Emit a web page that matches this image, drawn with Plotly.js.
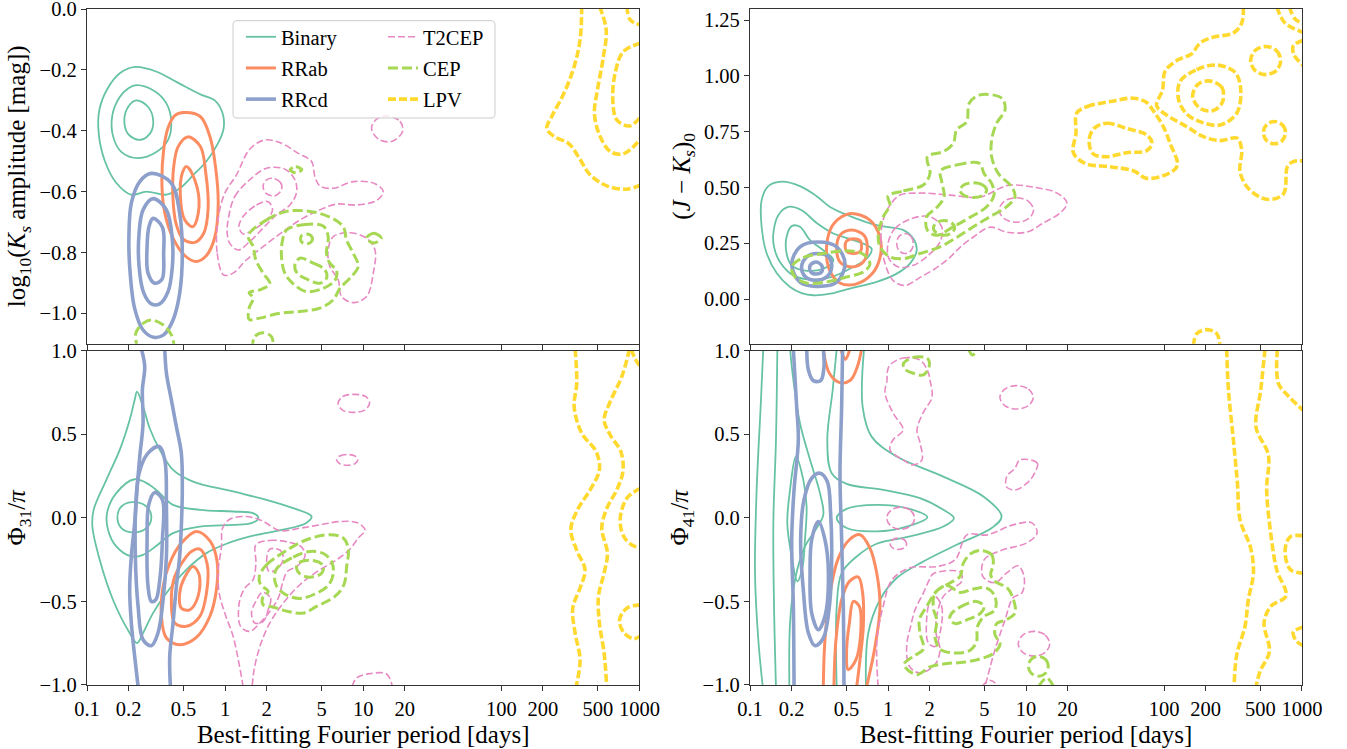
<!DOCTYPE html>
<html><head><meta charset="utf-8">
<script src="https://cdn.plot.ly/plotly-3.0.1.min.js"></script>
<style>html,body{margin:0;padding:0;background:#fff}#chart{width:1347px;height:749px}</style>
</head><body><div id="chart"></div>
<script>
// ---------- categories & ticks ----------
const CLASSES = ['Binary','RRab','RRcd','T2CEP','CEP','LPV'];
const PERIOD_TICKS = [0.1,0.2,0.5,1,2,5,10,20,100,200,500,1000];
const PERIOD_TICK_TEXT = ['0.1','0.2','0.5','1','2','5','10','20','100','200','500','1000'];

// Contour lines: each point = [log10(period / days), y value]
// ---------- top-left: log10(Ks amplitude) ----------
const TL_BINARY = [
 [[-0.65,-0.19],[-0.50,-0.205],[-0.35,-0.24],[-0.18,-0.28],[-0.075,-0.30],[-0.02,-0.34],[-0.01,-0.39],[-0.05,-0.44],[-0.135,-0.50],[-0.23,-0.545],[-0.33,-0.59],[-0.425,-0.61],[-0.57,-0.60],[-0.68,-0.61],[-0.79,-0.57],[-0.87,-0.50],[-0.915,-0.41],[-0.91,-0.33],[-0.85,-0.26],[-0.76,-0.21],[-0.65,-0.19]],
 [[-0.64,-0.25],[-0.51,-0.27],[-0.425,-0.31],[-0.39,-0.37],[-0.413,-0.43],[-0.498,-0.47],[-0.63,-0.49],[-0.75,-0.47],[-0.81,-0.42],[-0.817,-0.35],[-0.764,-0.29],[-0.70,-0.26],[-0.64,-0.25]],
 [[-0.643,-0.30],[-0.56,-0.32],[-0.52,-0.37],[-0.546,-0.41],[-0.62,-0.43],[-0.703,-0.41],[-0.73,-0.364],[-0.70,-0.32],[-0.643,-0.30]]
];
const TL_RRAB = [
 [[-0.30,-0.34],[-0.18,-0.353],[-0.11,-0.419],[-0.07,-0.517],[-0.05,-0.64],[-0.075,-0.75],[-0.135,-0.81],[-0.21,-0.83],[-0.293,-0.81],[-0.377,-0.753],[-0.437,-0.67],[-0.457,-0.583],[-0.445,-0.463],[-0.413,-0.39],[-0.365,-0.35],[-0.30,-0.34]],
 [[-0.27,-0.42],[-0.18,-0.451],[-0.14,-0.539],[-0.123,-0.655],[-0.155,-0.737],[-0.22,-0.767],[-0.304,-0.756],[-0.353,-0.709],[-0.377,-0.627],[-0.372,-0.517],[-0.34,-0.452],[-0.27,-0.42]],
 [[-0.28,-0.517],[-0.22,-0.561],[-0.189,-0.649],[-0.232,-0.715],[-0.292,-0.693],[-0.324,-0.616],[-0.31,-0.539],[-0.28,-0.517]]
];
const TL_RRCD = [
 [[-0.534,-0.54],[-0.39,-0.572],[-0.329,-0.671],[-0.31,-0.803],[-0.329,-0.934],[-0.377,-1.022],[-0.445,-1.071],[-0.517,-1.079],[-0.594,-1.055],[-0.655,-0.984],[-0.691,-0.846],[-0.696,-0.737],[-0.679,-0.638],[-0.618,-0.567],[-0.534,-0.54]],
 [[-0.522,-0.623],[-0.425,-0.66],[-0.382,-0.759],[-0.382,-0.846],[-0.413,-0.929],[-0.474,-0.969],[-0.534,-0.969],[-0.59,-0.932],[-0.623,-0.846],[-0.623,-0.737],[-0.594,-0.66],[-0.522,-0.623]],
 [[-0.522,-0.688],[-0.454,-0.717],[-0.445,-0.803],[-0.457,-0.888],[-0.51,-0.901],[-0.558,-0.868],[-0.565,-0.78],[-0.551,-0.715],[-0.522,-0.688]]
];
const TL_T2CEP = [
 [[-0.01,-0.874],[-0.058,-0.80],[-0.051,-0.69],[-0.002,-0.605],[0.082,-0.545],[0.179,-0.46],[0.288,-0.43],[0.408,-0.441],[0.529,-0.474],[0.626,-0.501],[0.65,-0.55],[0.686,-0.581],[0.783,-0.589],[0.928,-0.567],[1.085,-0.574],[1.145,-0.60],[1.097,-0.629],[0.952,-0.644],[0.807,-0.641],[0.686,-0.66],[0.565,-0.687],[0.42,-0.731],[0.275,-0.781],[0.155,-0.824],[0.058,-0.868],[-0.01,-0.874]],
 [[0.022,-0.693],[0.07,-0.616],[0.179,-0.561],[0.30,-0.523],[0.432,-0.526],[0.505,-0.561],[0.517,-0.603],[0.469,-0.644],[0.372,-0.676],[0.275,-0.72],[0.179,-0.764],[0.094,-0.792],[0.034,-0.77],[0.015,-0.737],[0.022,-0.693]],
 [[0.343,-0.556],[0.401,-0.57],[0.408,-0.594],[0.36,-0.614],[0.295,-0.605],[0.275,-0.581],[0.30,-0.561],[0.343,-0.556]],
 [[0.13,-0.682],[0.227,-0.644],[0.311,-0.633],[0.343,-0.66],[0.30,-0.693],[0.203,-0.726],[0.13,-0.739],[0.10,-0.715],[0.13,-0.682]],
 [[0.783,-0.748],[0.903,-0.735],[1.024,-0.753],[1.085,-0.792],[1.073,-0.868],[1.024,-0.945],[0.928,-0.965],[0.843,-0.945],[0.819,-0.89],[0.758,-0.846],[0.746,-0.792],[0.783,-0.748]],
 [[1.169,-0.351],[1.266,-0.369],[1.285,-0.402],[1.205,-0.435],[1.109,-0.427],[1.06,-0.391],[1.097,-0.362],[1.169,-0.351]]
];
const TL_CEP = [
 [[0.167,-0.745],[0.30,-0.693],[0.445,-0.665],[0.614,-0.665],[0.758,-0.684],[0.855,-0.715],[0.879,-0.759],[0.928,-0.803],[0.964,-0.846],[0.903,-0.885],[0.831,-0.918],[0.783,-0.956],[0.686,-0.983],[0.541,-0.994],[0.396,-1.0],[0.251,-1.016],[0.174,-1.02],[0.174,-0.983],[0.203,-0.95],[0.174,-0.932],[0.251,-0.923],[0.324,-0.903],[0.275,-0.868],[0.222,-0.824],[0.203,-0.78],[0.167,-0.745]],
 [[0.445,-0.726],[0.565,-0.709],[0.71,-0.713],[0.746,-0.748],[0.734,-0.803],[0.758,-0.835],[0.807,-0.86],[0.795,-0.892],[0.71,-0.918],[0.589,-0.929],[0.493,-0.903],[0.432,-0.868],[0.408,-0.813],[0.416,-0.759],[0.445,-0.726]],
 [[0.541,-0.819],[0.638,-0.835],[0.722,-0.857],[0.734,-0.885],[0.686,-0.901],[0.602,-0.89],[0.522,-0.868],[0.505,-0.841],[0.541,-0.819]],
 [[0.589,-0.739],[0.628,-0.748],[0.626,-0.764],[0.589,-0.772],[0.551,-0.764],[0.551,-0.746],[0.589,-0.739]],
 [[0.47,-0.528],[0.512,-0.518],[0.555,-0.528],[0.512,-0.538],[0.47,-0.528]],
 [[1.024,-0.753],[1.077,-0.737],[1.13,-0.753],[1.077,-0.769],[1.024,-0.753]],
 [[-0.63,-1.12],[-0.647,-1.066],[-0.594,-1.033],[-0.534,-1.022],[-0.45,-1.038],[-0.389,-1.071],[-0.365,-1.12]],
 [[0.196,-1.12],[0.215,-1.077],[0.275,-1.064],[0.336,-1.077],[0.348,-1.12]]
];
const TL_LPV = [
 [[2.582,0.01],[2.57,-0.101],[2.527,-0.189],[2.454,-0.276],[2.365,-0.353],[2.329,-0.392],[2.382,-0.419],[2.486,-0.441],[2.558,-0.485],[2.643,-0.545],[2.764,-0.581],[2.909,-0.592],[3.01,-0.578]],
 [[2.71,0.01],[2.759,-0.068],[2.735,-0.167],[2.696,-0.265],[2.674,-0.342],[2.71,-0.413],[2.788,-0.468],[2.88,-0.476],[2.957,-0.452],[3.01,-0.424]],
 [[3.01,-0.112],[2.884,-0.139],[2.824,-0.21],[2.807,-0.298],[2.836,-0.364],[2.928,-0.384],[3.01,-0.353]],
 [[2.909,0.01],[2.933,-0.035],[3.01,-0.052]]
];

// ---------- top-right: (J - Ks)_0 ----------
const TR_BINARY = [
 [[-0.77,0.526],[-0.638,0.506],[-0.517,0.461],[-0.42,0.413],[-0.276,0.372],[-0.082,0.331],[0.111,0.309],[0.183,0.271],[0.208,0.219],[0.159,0.159],[0.063,0.114],[-0.082,0.077],[-0.276,0.047],[-0.42,0.024],[-0.541,0.017],[-0.626,0.027],[-0.71,0.054],[-0.807,0.117],[-0.879,0.204],[-0.916,0.324],[-0.916,0.443],[-0.867,0.506],[-0.77,0.526]],
 [[-0.831,0.294],[-0.795,0.376],[-0.722,0.413],[-0.626,0.398],[-0.517,0.341],[-0.396,0.294],[-0.251,0.264],[-0.119,0.226],[-0.155,0.181],[-0.276,0.136],[-0.396,0.102],[-0.541,0.087],[-0.686,0.106],[-0.783,0.166],[-0.826,0.234],[-0.831,0.294]],
 [[-0.735,0.279],[-0.698,0.327],[-0.638,0.324],[-0.565,0.264],[-0.469,0.219],[-0.396,0.174],[-0.469,0.136],[-0.614,0.129],[-0.698,0.151],[-0.735,0.204],[-0.735,0.279]]
];
const TR_RRAB = [
 [[-0.264,0.384],[-0.131,0.354],[-0.058,0.276],[-0.058,0.186],[-0.119,0.111],[-0.239,0.066],[-0.348,0.072],[-0.425,0.132],[-0.445,0.234],[-0.408,0.324],[-0.336,0.369],[-0.264,0.384]],
 [[-0.264,0.309],[-0.174,0.286],[-0.15,0.226],[-0.179,0.166],[-0.264,0.144],[-0.348,0.166],[-0.372,0.226],[-0.348,0.286],[-0.264,0.309]],
 [[-0.251,0.27],[-0.2,0.26],[-0.191,0.237],[-0.2,0.214],[-0.251,0.204],[-0.3,0.214],[-0.311,0.237],[-0.3,0.26],[-0.251,0.27]]
];
const TR_RRCD = [
 [[-0.505,0.256],[-0.372,0.234],[-0.312,0.159],[-0.372,0.076],[-0.517,0.057],[-0.638,0.076],[-0.698,0.156],[-0.638,0.234],[-0.505,0.256]],
 [[-0.517,0.204],[-0.432,0.189],[-0.408,0.144],[-0.445,0.099],[-0.529,0.084],[-0.602,0.102],[-0.626,0.144],[-0.589,0.189],[-0.517,0.204]],
 [[-0.522,0.166],[-0.48,0.15],[-0.48,0.122],[-0.522,0.112],[-0.56,0.122],[-0.565,0.15],[-0.522,0.166]]
];
const TR_T2CEP = [
 [[-0.022,0.16],[-0.051,0.264],[-0.036,0.353],[0.014,0.421],[0.087,0.466],[0.232,0.475],[0.449,0.466],[0.667,0.457],[0.812,0.497],[0.884,0.511],[1.051,0.502],[1.225,0.475],[1.297,0.43],[1.246,0.385],[1.123,0.34],[1.007,0.30],[0.862,0.30],[0.739,0.322],[0.616,0.277],[0.522,0.232],[0.449,0.187],[0.355,0.142],[0.232,0.097],[0.123,0.061],[0.036,0.084],[-0.022,0.16]],
 [[0.0,0.249],[0.05,0.316],[0.171,0.361],[0.304,0.369],[0.389,0.324],[0.377,0.256],[0.292,0.196],[0.183,0.151],[0.075,0.144],[0.007,0.181],[0.0,0.249]],
 [[0.123,0.294],[0.166,0.281],[0.183,0.249],[0.166,0.217],[0.123,0.204],[0.08,0.217],[0.063,0.249],[0.08,0.281],[0.123,0.294]],
 [[0.93,0.454],[1.018,0.438],[1.055,0.399],[1.018,0.36],[0.93,0.344],[0.842,0.36],[0.805,0.399],[0.842,0.438],[0.93,0.454]]
];
const TR_CEP = [
 [[0.0,0.461],[0.111,0.485],[0.256,0.511],[0.304,0.563],[0.285,0.638],[0.401,0.661],[0.473,0.698],[0.497,0.758],[0.57,0.795],[0.589,0.878],[0.666,0.915],[0.824,0.9],[0.848,0.848],[0.787,0.788],[0.751,0.713],[0.751,0.638],[0.799,0.563],[0.896,0.503],[0.92,0.458],[0.86,0.414],[0.739,0.369],[0.618,0.324],[0.497,0.276],[0.377,0.234],[0.232,0.204],[0.111,0.181],[0.014,0.189],[-0.058,0.234],[-0.07,0.294],[-0.034,0.369],[0.014,0.421],[0.0,0.461]],
 [[0.381,0.575],[0.497,0.601],[0.662,0.608],[0.696,0.563],[0.751,0.518],[0.768,0.466],[0.715,0.414],[0.594,0.366],[0.473,0.324],[0.353,0.286],[0.285,0.309],[0.28,0.369],[0.353,0.41],[0.406,0.458],[0.389,0.526],[0.381,0.575]],
 [[0.618,0.521],[0.687,0.511],[0.715,0.488],[0.687,0.465],[0.618,0.455],[0.549,0.465],[0.521,0.488],[0.549,0.511],[0.618,0.521]],
 [[0.406,0.352],[0.46,0.342],[0.483,0.319],[0.46,0.296],[0.406,0.286],[0.352,0.296],[0.329,0.319],[0.352,0.342],[0.406,0.352]],
 [[-0.698,0.144],[-0.614,0.186],[-0.469,0.204],[-0.3,0.216],[-0.179,0.201],[-0.131,0.156],[-0.179,0.121],[-0.3,0.099],[-0.445,0.077],[-0.59,0.072],[-0.674,0.099],[-0.698,0.144]]
];
const TR_LPV = [
 [[2.575,1.31],[2.563,1.237],[2.502,1.192],[2.357,1.174],[2.261,1.147],[2.2,1.099],[2.092,1.069],[2.007,1.02],[1.99,0.938],[1.947,0.866],[2.019,0.825],[2.164,0.773],[2.285,0.728],[2.406,0.71],[2.531,0.721],[2.563,0.668],[2.551,0.571],[2.611,0.496],[2.744,0.447],[2.865,0.471],[2.894,0.593],[2.937,0.616],[3.01,0.619]],
 [[1.367,0.833],[1.444,0.863],[1.609,0.885],[1.778,0.9],[1.874,0.881],[1.927,0.84],[1.995,0.773],[2.044,0.698],[2.097,0.601],[2.044,0.566],[1.874,0.541],[1.778,0.575],[1.609,0.593],[1.428,0.608],[1.343,0.656],[1.362,0.743],[1.367,0.833]],
 [[1.493,0.765],[1.585,0.788],[1.729,0.765],[1.874,0.736],[1.913,0.698],[1.874,0.665],[1.729,0.656],[1.585,0.638],[1.488,0.65],[1.457,0.71],[1.493,0.765]],
 [[2.116,0.975],[2.237,1.028],[2.382,1.049],[2.515,1.016],[2.556,0.938],[2.527,0.833],[2.406,0.78],[2.261,0.795],[2.164,0.83],[2.106,0.893],[2.116,0.975]],
 [[2.321,0.978],[2.418,0.95],[2.425,0.885],[2.357,0.845],[2.261,0.855],[2.208,0.908],[2.242,0.96],[2.321,0.978]],
 [[2.737,1.132],[2.814,1.114],[2.846,1.069],[2.814,1.024],[2.737,1.006],[2.66,1.024],[2.628,1.069],[2.66,1.114],[2.737,1.132]],
 [[2.8,0.796],[2.857,0.781],[2.88,0.746],[2.857,0.711],[2.8,0.696],[2.743,0.711],[2.72,0.746],[2.743,0.781],[2.8,0.796]],
 [[2.817,1.31],[2.877,1.237],[3.01,1.195]],
 [[2.908,1.31],[2.95,1.255],[3.01,1.235]],
 [[3.01,1.16],[2.937,1.135],[2.942,1.095],[3.01,1.045]],
 [[2.213,-0.21],[2.237,-0.155],[2.31,-0.137],[2.382,-0.155],[2.406,-0.21]]
];

// ---------- bottom-left: Phi31 / pi ----------
const BL_BINARY = [
 [[-0.638,0.755],[-0.594,0.666],[-0.546,0.536],[-0.473,0.407],[-0.377,0.287],[-0.232,0.217],[0.058,0.158],[0.299,0.108],[0.493,0.058],[0.626,0.008],[0.584,-0.032],[0.42,-0.071],[0.203,-0.107],[0.01,-0.155],[-0.135,-0.211],[-0.28,-0.31],[-0.425,-0.45],[-0.522,-0.57],[-0.594,-0.689],[-0.638,-0.749],[-0.691,-0.689],[-0.812,-0.49],[-0.908,-0.251],[-0.961,-0.052],[-0.952,0.048],[-0.86,0.227],[-0.763,0.407],[-0.691,0.586],[-0.655,0.705],[-0.638,0.755]],
 [[-0.655,0.231],[-0.546,0.197],[-0.473,0.148],[-0.377,0.078],[-0.183,0.048],[0.058,0.038],[0.203,0.028],[0.241,-0.002],[0.19,-0.032],[0.058,-0.042],[-0.183,-0.052],[-0.377,-0.091],[-0.497,-0.167],[-0.594,-0.221],[-0.679,-0.231],[-0.788,-0.171],[-0.848,-0.071],[-0.855,0.028],[-0.788,0.148],[-0.655,0.231]],
 [[-0.667,0.094],[-0.57,0.068],[-0.534,0.004],[-0.57,-0.061],[-0.667,-0.087],[-0.751,-0.061],[-0.78,0.004],[-0.751,0.068],[-0.667,0.094]]
];
const BL_RRAB = [
 [[-0.208,-0.081],[-0.107,-0.141],[-0.058,-0.261],[-0.063,-0.43],[-0.111,-0.59],[-0.208,-0.715],[-0.329,-0.759],[-0.425,-0.719],[-0.461,-0.59],[-0.449,-0.41],[-0.401,-0.271],[-0.317,-0.151],[-0.208,-0.081]],
 [[-0.183,-0.187],[-0.13,-0.275],[-0.135,-0.45],[-0.183,-0.59],[-0.28,-0.649],[-0.365,-0.629],[-0.389,-0.51],[-0.372,-0.37],[-0.317,-0.275],[-0.244,-0.201],[-0.183,-0.187]],
 [[-0.232,-0.291],[-0.188,-0.34],[-0.196,-0.47],[-0.256,-0.55],[-0.317,-0.54],[-0.329,-0.45],[-0.292,-0.354],[-0.232,-0.291]]
];
const BL_RRCD = [
 [[-0.606,1.01],[-0.582,0.905],[-0.599,0.765],[-0.594,0.566],[-0.618,0.367],[-0.638,0.168],[-0.655,-0.032],[-0.679,-0.231],[-0.691,-0.43],[-0.679,-0.629],[-0.655,-0.828],[-0.63,-1.01]],
 [[-0.437,1.01],[-0.425,0.865],[-0.389,0.705],[-0.353,0.546],[-0.317,0.387],[-0.31,0.168],[-0.317,-0.052],[-0.329,-0.231],[-0.353,-0.41],[-0.377,-0.629],[-0.401,-0.828],[-0.396,-1.01]],
 [[-0.478,0.427],[-0.437,0.347],[-0.425,0.068],[-0.425,-0.231],[-0.449,-0.49],[-0.486,-0.689],[-0.534,-0.765],[-0.594,-0.729],[-0.63,-0.53],[-0.65,-0.231],[-0.647,0.068],[-0.623,0.267],[-0.558,0.387],[-0.478,0.427]],
 [[-0.51,0.152],[-0.454,0.108],[-0.454,-0.131],[-0.473,-0.37],[-0.502,-0.49],[-0.534,-0.50],[-0.558,-0.41],[-0.565,-0.131],[-0.553,0.078],[-0.51,0.152]]
];
const BL_T2CEP = [
 [[0.13,-1.01],[0.126,-0.988],[0.095,-0.848],[0.058,-0.709],[-0.002,-0.57],[-0.043,-0.45],[-0.05,-0.311],[-0.026,-0.171],[-0.019,-0.062],[0.034,-0.008],[0.155,0.008],[0.264,-0.016],[0.397,-0.076],[0.541,-0.062],[0.686,-0.042],[0.831,-0.022],[0.952,-0.028],[1.013,-0.072],[0.964,-0.121],[0.899,-0.191],[0.807,-0.251],[0.686,-0.311],[0.541,-0.40],[0.421,-0.51],[0.324,-0.629],[0.252,-0.769],[0.21,-0.908],[0.196,-1.01]],
 [[0.223,-0.161],[0.324,-0.135],[0.469,-0.147],[0.554,-0.175],[0.578,-0.231],[0.517,-0.291],[0.45,-0.321],[0.416,-0.39],[0.385,-0.48],[0.324,-0.56],[0.252,-0.629],[0.18,-0.679],[0.112,-0.649],[0.102,-0.51],[0.143,-0.42],[0.203,-0.37],[0.223,-0.271],[0.223,-0.161]],
 [[0.324,-0.187],[0.401,-0.195],[0.421,-0.247],[0.377,-0.307],[0.319,-0.321],[0.3,-0.261],[0.324,-0.187]],
 [[0.271,-0.446],[0.329,-0.48],[0.312,-0.55],[0.276,-0.619],[0.215,-0.629],[0.191,-0.57],[0.222,-0.50],[0.271,-0.446]],
 [[0.818,0.685],[0.85,0.725],[0.932,0.739],[1.02,0.725],[1.046,0.685],[1.01,0.645],[0.932,0.631],[0.85,0.645],[0.818,0.685]],
 [[0.807,0.347],[0.83,0.37],[0.884,0.379],[0.94,0.37],[0.961,0.347],[0.94,0.324],[0.884,0.315],[0.83,0.324],[0.807,0.347]],
 [[0.92,-1.01],[0.952,-0.958],[1.048,-0.932],[1.169,-0.934],[1.205,-0.99],[1.208,-1.01]]
];
const BL_CEP = [
 [[0.247,-0.35],[0.30,-0.281],[0.433,-0.201],[0.59,-0.131],[0.759,-0.101],[0.856,-0.121],[0.892,-0.187],[0.88,-0.291],[0.86,-0.40],[0.795,-0.47],[0.662,-0.53],[0.566,-0.57],[0.457,-0.56],[0.348,-0.534],[0.276,-0.52],[0.271,-0.48],[0.312,-0.44],[0.257,-0.40],[0.247,-0.35]],
 [[0.368,-0.311],[0.493,-0.235],[0.614,-0.201],[0.715,-0.215],[0.773,-0.267],[0.783,-0.335],[0.747,-0.404],[0.638,-0.46],[0.541,-0.482],[0.44,-0.46],[0.368,-0.40],[0.368,-0.311]],
 [[0.53,-0.271],[0.638,-0.255],[0.711,-0.287],[0.699,-0.331],[0.614,-0.355],[0.541,-0.335],[0.517,-0.301],[0.53,-0.271]]
];
const BL_LPV = [
 [[2.534,1.01],[2.546,0.805],[2.527,0.666],[2.582,0.506],[2.686,0.397],[2.71,0.287],[2.643,0.168],[2.551,0.048],[2.503,-0.071],[2.546,-0.195],[2.606,-0.311],[2.57,-0.42],[2.517,-0.54],[2.534,-0.689],[2.57,-0.848],[2.541,-1.01]],
 [[2.928,1.01],[2.872,0.845],[2.788,0.695],[2.744,0.586],[2.788,0.496],[2.865,0.397],[2.88,0.277],[2.836,0.168],[2.764,0.058],[2.727,-0.061],[2.768,-0.211],[2.744,-0.33],[2.703,-0.47],[2.71,-0.629],[2.744,-0.809],[2.763,-1.01]],
 [[2.94,1.01],[2.97,0.95],[3.01,0.9]],
 [[3.01,0.178],[2.909,0.118],[2.86,-0.012],[2.889,-0.115],[2.957,-0.167],[3.01,-0.175]],
 [[3.01,-0.52],[2.909,-0.54],[2.855,-0.613],[2.889,-0.689],[2.957,-0.723],[3.01,-0.705]]
];

// ---------- bottom-right: Phi41 / pi ----------
const BR_BINARY = [
 [[-0.904,1.01],[-0.923,0.666],[-0.952,0.168],[-0.964,-0.33],[-0.94,-0.729],[-0.908,-1.01]],
 [[-0.174,1.01],[-0.184,0.666],[-0.119,0.486],[0.063,0.367],[0.401,0.247],[0.691,0.128],[0.823,0.008],[0.751,-0.061],[0.497,-0.161],[0.256,-0.261],[0.063,-0.36],[-0.058,-0.49],[-0.143,-0.689],[-0.16,-1.01]],
 [[-0.802,1.01],[-0.812,0.466],[-0.831,-0.032],[-0.826,-0.53],[-0.812,-1.01]],
 [[-0.372,1.01],[-0.401,0.765],[-0.44,0.466],[-0.408,0.267],[-0.3,0.203],[-0.034,0.168],[0.232,0.118],[0.401,0.048],[0.478,-0.002],[0.401,-0.052],[0.159,-0.111],[-0.082,-0.155],[-0.227,-0.231],[-0.336,-0.33],[-0.372,-0.53],[-0.372,-1.01]],
 [[-0.372,-0.002],[-0.3,0.054],[-0.082,0.078],[0.135,0.058],[0.285,0.004],[0.135,-0.052],[-0.082,-0.081],[-0.3,-0.061],[-0.372,-0.002]],
 [[-0.71,1.01],[-0.686,0.825],[-0.638,0.566],[-0.565,0.347],[-0.493,0.148],[-0.469,0.018],[-0.517,-0.061],[-0.602,-0.171],[-0.674,-0.37],[-0.71,-0.629],[-0.715,-1.01]],
 [[-0.667,0.367],[-0.71,0.168],[-0.73,-0.032],[-0.698,-0.231],[-0.657,-0.38],[-0.619,-0.291],[-0.602,-0.131],[-0.59,0.068],[-0.614,0.227],[-0.667,0.367]]
];
const BR_RRAB = [
 [[-0.469,-1.01],[-0.457,-0.729],[-0.42,-0.45],[-0.36,-0.241],[-0.28,-0.131],[-0.203,-0.101],[-0.131,-0.181],[-0.082,-0.33],[-0.058,-0.53],[-0.094,-0.769],[-0.155,-1.01]],
 [[-0.392,-1.01],[-0.377,-0.729],[-0.336,-0.49],[-0.28,-0.38],[-0.215,-0.354],[-0.184,-0.45],[-0.179,-0.649],[-0.203,-0.848],[-0.227,-1.01]],
 [[-0.251,-0.50],[-0.208,-0.53],[-0.198,-0.689],[-0.232,-0.848],[-0.288,-0.908],[-0.3,-0.789],[-0.28,-0.629],[-0.251,-0.50]],
 [[-0.469,1.01],[-0.425,0.865],[-0.348,0.809],[-0.271,0.825],[-0.222,0.905],[-0.191,1.01]],
 [[-0.343,1.01],[-0.309,0.948],[-0.276,1.01]]
];
const BR_RRCD = [
 [[-0.686,1.01],[-0.662,0.666],[-0.65,0.466],[-0.681,0.168],[-0.698,-0.131],[-0.686,-0.53],[-0.681,-1.01]],
 [[-0.329,1.01],[-0.336,0.666],[-0.348,0.267],[-0.336,-0.131],[-0.324,-0.53],[-0.319,-1.01]],
 [[-0.589,1.01],[-0.577,0.885],[-0.541,0.821],[-0.488,0.821],[-0.464,0.905],[-0.469,1.01]],
 [[-0.493,0.267],[-0.44,0.217],[-0.416,0.028],[-0.408,-0.231],[-0.425,-0.53],[-0.469,-0.719],[-0.529,-0.765],[-0.577,-0.689],[-0.614,-0.43],[-0.633,-0.131],[-0.609,0.108],[-0.553,0.237],[-0.493,0.267]],
 [[-0.505,-0.022],[-0.457,-0.131],[-0.432,-0.33],[-0.457,-0.589],[-0.505,-0.669],[-0.553,-0.57],[-0.565,-0.33],[-0.553,-0.131],[-0.505,-0.022]]
];
const BR_T2CEP = [
 [[0.014,0.915],[0.109,0.956],[0.232,0.944],[0.29,0.873],[0.304,0.825],[0.319,0.723],[0.254,0.628],[0.21,0.526],[0.232,0.448],[0.246,0.347],[0.181,0.317],[0.109,0.347],[0.014,0.406],[0.036,0.466],[0.109,0.526],[0.036,0.628],[-0.022,0.747],[-0.007,0.825],[-0.007,0.867],[0.014,0.915]],
 [[0.932,0.791],[1.018,0.77],[1.053,0.721],[1.018,0.672],[0.932,0.651],[0.846,0.672],[0.811,0.721],[0.846,0.77],[0.932,0.791]],
 [[0.956,0.347],[1.082,0.327],[1.048,0.247],[1.0,0.203],[0.928,0.168],[0.86,0.184],[0.86,0.247],[0.92,0.297],[0.956,0.347]],
 [[0.092,0.064],[0.163,0.045],[0.193,-0.002],[0.163,-0.049],[0.092,-0.068],[0.021,-0.049],[-0.009,-0.002],[0.021,0.045],[0.092,0.064]],
 [[0.075,-0.121],[0.117,-0.131],[0.135,-0.155],[0.117,-0.179],[0.075,-0.189],[0.033,-0.179],[0.015,-0.155],[0.033,-0.131],[0.075,-0.121]],
 [[-0.072,-1.01],[-0.08,-0.729],[-0.036,-0.532],[0.029,-0.371],[0.159,-0.299],[0.355,-0.291],[0.486,-0.251],[0.572,-0.102],[0.717,-0.102],[0.906,-0.042],[1.043,-0.03],[1.08,-0.09],[1.007,-0.149],[0.812,-0.197],[0.696,-0.251],[0.688,-0.352],[0.775,-0.388],[0.862,-0.328],[0.942,-0.287],[0.986,-0.352],[0.971,-0.448],[0.906,-0.478],[0.848,-0.61],[0.775,-0.789],[0.703,-1.01]],
 [[0.328,-0.334],[0.522,-0.324],[0.534,-0.38],[0.461,-0.426],[0.401,-0.47],[0.357,-0.569],[0.348,-0.689],[0.377,-0.788],[0.34,-0.878],[0.232,-0.928],[0.155,-0.888],[0.135,-0.769],[0.164,-0.649],[0.196,-0.55],[0.256,-0.45],[0.3,-0.37],[0.328,-0.334]],
 [[0.341,-0.47],[0.389,-0.53],[0.377,-0.689],[0.341,-0.769],[0.292,-0.749],[0.28,-0.609],[0.304,-0.5],[0.341,-0.47]],
 [[1.058,-0.679],[1.139,-0.701],[1.172,-0.753],[1.139,-0.805],[1.058,-0.827],[0.977,-0.805],[0.944,-0.753],[0.977,-0.701],[1.058,-0.679]],
 [[0.679,-1.01],[0.739,-0.972],[0.807,-1.01]]
];
const BR_CEP = [
 [[0.667,-0.195],[0.751,-0.221],[0.763,-0.28],[0.744,-0.34],[0.775,-0.38],[0.865,-0.42],[0.913,-0.50],[0.92,-0.569],[0.86,-0.609],[0.787,-0.633],[0.775,-0.699],[0.812,-0.753],[0.763,-0.812],[0.667,-0.844],[0.546,-0.864],[0.425,-0.872],[0.304,-0.892],[0.208,-0.938],[0.116,-0.878],[0.184,-0.828],[0.256,-0.785],[0.232,-0.689],[0.227,-0.609],[0.28,-0.53],[0.357,-0.434],[0.449,-0.39],[0.522,-0.35],[0.546,-0.271],[0.599,-0.215],[0.667,-0.195]],
 [[0.341,-0.45],[0.425,-0.404],[0.522,-0.446],[0.618,-0.426],[0.715,-0.42],[0.775,-0.47],[0.775,-0.55],[0.691,-0.593],[0.647,-0.653],[0.642,-0.739],[0.594,-0.793],[0.473,-0.808],[0.377,-0.785],[0.341,-0.719],[0.353,-0.609],[0.328,-0.54],[0.341,-0.45]],
 [[0.454,-0.579],[0.522,-0.534],[0.642,-0.50],[0.696,-0.53],[0.667,-0.573],[0.575,-0.609],[0.486,-0.633],[0.449,-0.605],[0.454,-0.579]],
 [[1.089,-0.828],[1.14,-0.846],[1.161,-0.888],[1.14,-0.93],[1.089,-0.948],[1.038,-0.93],[1.017,-0.888],[1.038,-0.846],[1.089,-0.828]],
 [[1.09,-1.01],[1.15,-0.958],[1.2,-1.01]],
 [[0.111,0.921],[0.183,0.96],[0.285,0.954],[0.299,0.909],[0.256,0.855],[0.183,0.865],[0.123,0.889],[0.111,0.921]],
 [[0.582,1.01],[0.613,0.974],[0.647,1.01]]
];
const BR_LPV = [
 [[2.454,1.01],[2.467,0.765],[2.503,0.466],[2.532,0.207],[2.551,-0.012],[2.628,-0.181],[2.648,-0.33],[2.611,-0.49],[2.587,-0.649],[2.527,-0.819],[2.508,-1.01]],
 [[2.732,1.01],[2.701,0.765],[2.667,0.542],[2.756,0.377],[2.744,0.168],[2.773,-0.091],[2.817,-0.311],[2.884,-0.466],[2.773,-0.53],[2.725,-0.629],[2.764,-0.799],[2.696,-0.918],[2.667,-1.01]],
 [[2.822,1.01],[2.829,0.805],[2.901,0.729],[3.01,0.642]],
 [[3.01,-0.107],[2.913,-0.115],[2.877,-0.201],[2.918,-0.311],[3.01,-0.33]],
 [[3.01,-0.653],[2.937,-0.685],[2.962,-0.739],[3.01,-0.765]]
];

// ---------- styling ----------
const FONT = 'Liberation Serif';
const STYLE = {
  Binary:{color:'#66c2a5', width:1.8, dash:'solid'},
  RRab:  {color:'#fc8d62', width:3,   dash:'solid'},
  RRcd:  {color:'#8da0cb', width:3.6, dash:'solid'},
  T2CEP: {color:'#e78ac3', width:1.6, dash:'7px,3px'},
  CEP:   {color:'#a6d854', width:3,   dash:'10px,4px'},
  LPV:   {color:'#ffd92f', width:3.6, dash:'8px,3px'}
};
const PANELS = [
  {xa:'x',  ya:'y',  sets:{Binary:TL_BINARY, RRab:TL_RRAB, RRcd:TL_RRCD, T2CEP:TL_T2CEP, CEP:TL_CEP, LPV:TL_LPV}},
  {xa:'x2', ya:'y2', sets:{Binary:TR_BINARY, RRab:TR_RRAB, RRcd:TR_RRCD, T2CEP:TR_T2CEP, CEP:TR_CEP, LPV:TR_LPV}},
  {xa:'x3', ya:'y3', sets:{Binary:BL_BINARY, RRab:BL_RRAB, RRcd:BL_RRCD, T2CEP:BL_T2CEP, CEP:BL_CEP, LPV:BL_LPV}},
  {xa:'x4', ya:'y4', sets:{Binary:BR_BINARY, RRab:BR_RRAB, RRcd:BR_RRCD, T2CEP:BR_T2CEP, CEP:BR_CEP, LPV:BR_LPV}}
];

function joinContours(contours){
  const x=[], y=[];
  contours.forEach((c,i)=>{
    if(i>0){x.push(null); y.push(null);}
    c.forEach(p=>{x.push(Math.pow(10,p[0])); y.push(p[1]);});
  });
  return {x,y};
}

const traces = [];
PANELS.forEach((pan,pi)=>{
  CLASSES.forEach((cls,ci)=>{
    const d = joinContours(pan.sets[cls]);
    traces.push({
      type:'scatter', mode:'lines', x:d.x, y:d.y, xaxis:pan.xa, yaxis:pan.ya,
      name:cls, legendgroup:cls, legend: ci<3 ? 'legend' : 'legend2',
      showlegend: pi===0, connectgaps:false, hoverinfo:'skip',
      line:{color:STYLE[cls].color, width:STYLE[cls].width, dash:STYLE[cls].dash, shape:'spline', smoothing:1}
    });
  });
});

const tickFont = {family:FONT, size:20.5, color:'#000'};
const titleFont = {family:FONT, size:25, color:'#000'};
function xAxis(domain, anchor, labels){
  const a = {type:'log', range:[-1,3], domain:domain, anchor:anchor,
    tickmode:'array', tickvals:PERIOD_TICKS, ticktext:PERIOD_TICK_TEXT, showticklabels:labels,
    ticks:'outside', ticklen:5, tickwidth:1.1, tickcolor:'#333', ticklabeloverflow:'allow',
    showline:true, mirror:true, linecolor:'#333', linewidth:1.3,
    showgrid:false, zeroline:false, tickfont:tickFont};
  if(labels) a.title = {text:'Best-fitting Fourier period [days]', font:titleFont, standoff:6};
  return a;
}
function yAxis(domain, anchor, range, dtick, fmt, title){
  return {range:range, domain:domain, anchor:anchor, dtick:dtick, tick0:0, tickformat:fmt,
    ticks:'outside', ticklen:5, tickwidth:1.1, tickcolor:'#333', ticklabeloverflow:'allow',
    showline:true, mirror:true, linecolor:'#333', linewidth:1.3,
    showgrid:false, zeroline:false, tickfont:tickFont,
    title:{text:title, font:titleFont, standoff:6}};
}

const XL=[0,0.4547], XR=[0.5457,1], YT=[0.5049,1], YB=[0,0.4945];
const bx0=0.1202, bx1=0.3358, by0=0.8388, by1=0.9827, rx=0.0033, ry=0.0059;
const boxPath = `M${bx0+rx},${by0} L${bx1-rx},${by0} Q${bx1},${by0} ${bx1},${by0+ry} L${bx1},${by1-ry} Q${bx1},${by1} ${bx1-rx},${by1} L${bx0+rx},${by1} Q${bx0},${by1} ${bx0},${by1-ry} L${bx0},${by0+ry} Q${bx0},${by0} ${bx0+rx},${by0} Z`;

const legendBase = {bgcolor:'rgba(0,0,0,0)', borderwidth:0, font:{family:FONT,size:20.5,color:'#000'},
  xanchor:'left', yanchor:'top', traceorder:'grouped', tracegroupgap:1.5, itemclick:'toggle'};

const layout = {
  width:1347, height:749, paper_bgcolor:'#fff', plot_bgcolor:'#fff',
  margin:{l:87, r:45, t:9, b:64},
  font:{family:FONT, color:'#000'},
  xaxis: xAxis(XL,'y',false),
  yaxis: yAxis(YT,'x',[-1.1,0.0005],0.2,'.1f','log<sub>10</sub>(<i>K<sub>s</sub></i> amplitude [mag])'),
  xaxis2: xAxis(XR,'y2',false),
  yaxis2: yAxis(YT,'x2',[-0.2,1.3],0.25,'.2f','(<i>J</i> − <i>K<sub>s</sub></i>)<sub>0</sub>'),
  xaxis3: xAxis(XL,'y3',true),
  yaxis3: yAxis(YB,'x3',[-1,1],0.5,'.1f','Φ<sub>31</sub>/<i>π</i>'),
  xaxis4: xAxis(XR,'y4',true),
  yaxis4: yAxis(YB,'x4',[-1,1],0.5,'.1f','Φ<sub>41</sub>/<i>π</i>'),
  legend: Object.assign({x:0.1267, y:0.9882}, legendBase),
  legend2: Object.assign({x:0.2436, y:0.9882}, legendBase),
  shapes:[{type:'path', xref:'paper', yref:'paper', path:boxPath, layer:'above',
    line:{color:'#cccccc', width:1}, fillcolor:'rgba(255,255,255,0.8)'}],
  showlegend:true
};

Plotly.newPlot('chart', traces, layout, {displayModeBar:false});
</script>
</body></html>
